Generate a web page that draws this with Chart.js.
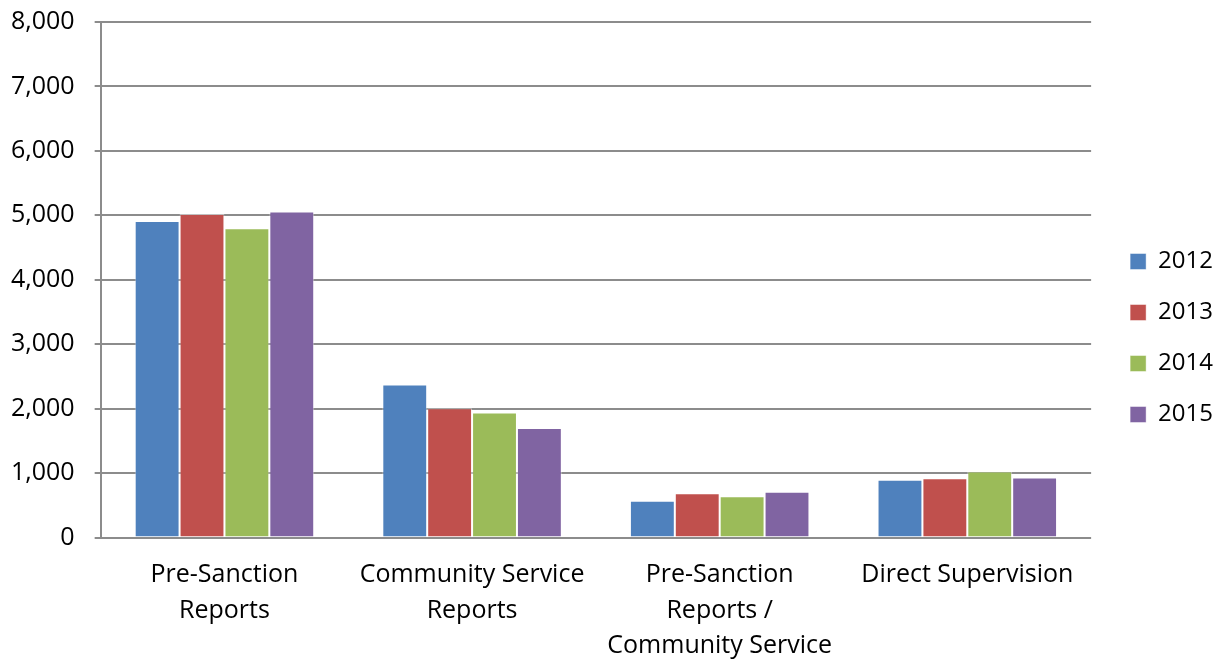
<!DOCTYPE html>
<html>
<head>
<meta charset="utf-8">
<script src="https://cdn.jsdelivr.net/npm/chart.js@4.4.1/dist/chart.umd.min.js"></script>
<style>
  html, body { margin: 0; padding: 0; background: #fff; }
  #wrap { width: 1223px; height: 664px; }
</style>
</head>
<body>
<div id="wrap"><canvas id="chart"></canvas></div>
<script>
'use strict';

const categories = [
  ['Pre-Sanction', 'Reports'],
  ['Community Service', 'Reports'],
  ['Pre-Sanction', 'Reports /', 'Community Service'],
  ['Direct Supervision'],
];
const years = ['2012', '2013', '2014', '2015'];
const values2012 = [4910, 2375, 570, 895];
const values2013 = [5020, 2005, 685, 920];
const values2014 = [4800, 1940, 640, 1025];
const values2015 = [5060, 1700, 710, 930];
const yTicks = [0, 1000, 2000, 3000, 4000, 5000, 6000, 7000, 8000];

const colors = ['#4f81bd', '#c0504d', '#9bbb59', '#8064a2'];
const seriesValues = [values2012, values2013, values2014, values2015];

const gridColor = '#8c8c8c';
const fontFamily = '"Open Sans", "Noto Sans", sans-serif';

new Chart(document.getElementById('chart'), {
  type: 'bar',
  data: {
    labels: categories,
    datasets: years.map((y, i) => ({
      label: y,
      data: seriesValues[i],
      backgroundColor: colors[i],
      borderColor: 'rgba(255, 255, 255, 0.45)',
      borderWidth: 1,
      categoryPercentage: 0.725,
      barPercentage: 1,
    })),
  },
  options: {
    responsive: true,
    maintainAspectRatio: false,
    animation: false,
    layout: { padding: { top: 0, left: -9, bottom: -12 } },
    plugins: {
      tooltip: { enabled: false },
      legend: {
        position: 'right',
        labels: {
          color: '#000',
          boxWidth: 16,
          boxHeight: 16,
          padding: 27,
          font: { family: fontFamily, size: 24 },
        },
      },
    },
    scales: {
      x: {
        grid: { display: false },
        border: { display: false },
        ticks: {
          color: '#000',
          padding: 12,
          maxRotation: 0,
          autoSkip: false,
          font: { family: fontFamily, size: 25, lineHeight: 1.42 },
        },
      },
      y: {
        min: 0,
        max: 8000,
        afterBuildTicks: (scale) => { scale.ticks = yTicks.map(v => ({ value: v })); },
        // keep the label gap without pushing the plot down
        afterFit: (scale) => { scale.paddingTop = 22; scale.paddingBottom = 14; },
        grid: { color: gridColor, lineWidth: 2, tickLength: 6 },
        border: { color: gridColor, width: 2 },
        ticks: {
          color: '#000',
          padding: 20,
          font: { family: fontFamily, size: 25 },
          callback: (v) => v.toLocaleString('en-US'),
        },
      },
      pad: {
        position: 'right',
        display: true,
        grid: { display: false },
        border: { display: false },
        ticks: { display: false },
        afterFit: (scale) => { scale.width = 12; },
      },
    },
  },
});
</script>
</body>
</html>
